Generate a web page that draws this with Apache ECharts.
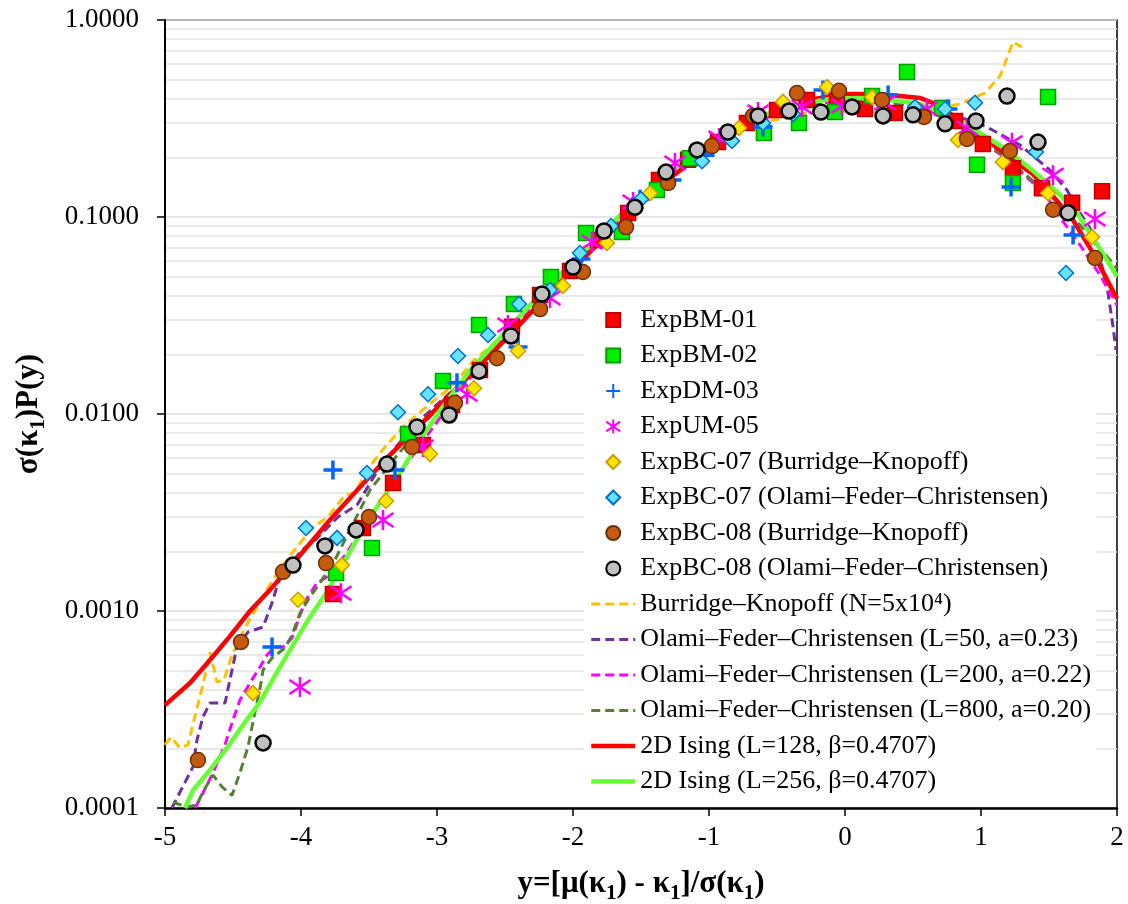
<!DOCTYPE html>
<html>
<head>
<meta charset="utf-8">
<script src="https://cdn.jsdelivr.net/npm/echarts@6/dist/echarts.min.js"></script>
<style>
  html, body { margin: 0; padding: 0; background: #fff; }
  #chart { width: 1128px; height: 904px; }
</style>
</head>
<body>
<div id="chart"></div>
<script>
// experimental points, [y, sigma*P(y)]
var expBM01 = [[-3.765,0.00122],[-3.544,0.00264],[-3.323,0.00447],[-3.103,0.00696],[-2.890,0.0111],[-2.684,0.0167],[-2.449,0.0277],[-2.242,0.0402],[-2.022,0.0532],[-1.817,0.0764],[-1.595,0.1047],[-1.368,0.154],[-1.154,0.195],[-0.934,0.240],[-0.721,0.300],[-0.500,0.349],[-0.279,0.393],[-0.059,0.393],[0.147,0.353],[0.367,0.337],[0.809,0.307],[1.014,0.235],[1.235,0.177],[1.448,0.140],[1.670,0.118],[1.890,0.135]];
var expBM02 = [[-3.742,0.00156],[-3.478,0.00209],[-3.213,0.00791],[-2.956,0.0147],[-2.691,0.0283],[-2.434,0.0362],[-2.162,0.0496],[-1.904,0.0829],[-1.640,0.0839],[-1.383,0.137],[-1.140,0.199],[-0.596,0.267],[-0.338,0.300],[-0.073,0.341],[0.199,0.411],[0.456,0.545],[0.714,0.357],[0.971,0.184],[1.235,0.149],[1.493,0.406]];
var expDM03 = [[-4.213,0.000656],[-3.765,0.00520],[-3.309,0.00520],[-2.853,0.0144],[-2.404,0.0219],[-1.942,0.0612],[-1.507,0.123],[-1.272,0.154],[-1.029,0.206],[-0.603,0.286],[-0.162,0.441],[0.317,0.416],[0.757,0.353],[1.221,0.142],[1.677,0.0811]];
var expUM05 = [[-4.007,0.000411],[-3.706,0.00123],[-3.397,0.00290],[-3.103,0.00680],[-2.779,0.0126],[-2.478,0.0283],[-2.169,0.0388],[-1.860,0.0747],[-1.558,0.119],[-1.250,0.188],[-0.926,0.252],[-0.639,0.341],[-0.316,0.362],[-0.022,0.366],[0.294,0.380],[0.603,0.353],[0.897,0.283],[1.228,0.238],[1.530,0.163],[1.838,0.0977]];
var expBC07bk = [[-4.353,0.000383],[-4.022,0.00114],[-3.699,0.00171],[-3.375,0.00362],[-3.051,0.00626],[-2.728,0.0135],[-2.404,0.0209],[-2.074,0.0447],[-1.750,0.0738],[-1.433,0.132],[-0.779,0.283],[-0.456,0.384],[-0.132,0.457],[0.199,0.406],[0.831,0.246],[1.161,0.190],[1.493,0.132],[1.817,0.0791]];
var expBC07ofc = [[-3.964,0.00264],[-3.735,0.00235],[-3.515,0.00502],[-3.287,0.0102],[-3.066,0.0126],[-2.846,0.0197],[-2.625,0.0252],[-2.397,0.0362],[-2.169,0.0426],[-1.949,0.0656],[-1.720,0.0900],[-1.500,0.123],[-1.051,0.192],[-0.831,0.243],[-0.603,0.300],[-0.382,0.333],[0.515,0.362],[0.736,0.353],[0.956,0.380],[1.404,0.214],[1.625,0.0520]];
var expBC08bk = [[-4.758,0.000175],[-4.441,0.000696],[-4.132,0.00158],[-3.816,0.00175],[-3.500,0.00300],[-3.183,0.00680],[-2.868,0.0114],[-2.559,0.0192],[-2.242,0.0341],[-1.927,0.0526],[-1.610,0.0889],[-1.301,0.149],[-0.978,0.229],[-0.676,0.326],[-0.353,0.426],[-0.044,0.437],[0.272,0.393],[0.581,0.322],[0.897,0.249],[1.213,0.216],[1.530,0.109],[1.838,0.0619]];
var expBC08ofc = [[-4.279,0.000214],[-4.059,0.00171],[-3.824,0.00214],[-3.595,0.00258],[-3.368,0.00557],[-3.147,0.00859],[-2.911,0.00989],[-2.691,0.0165],[-2.456,0.0249],[-2.228,0.0406],[-2.000,0.0557],[-1.772,0.0849],[-1.545,0.112],[-1.316,0.169],[-1.088,0.219],[-0.861,0.270],[-0.639,0.326],[-0.412,0.345],[-0.177,0.341],[0.052,0.362],[0.280,0.326],[0.500,0.330],[0.736,0.297],[0.963,0.307],[1.191,0.411],[1.419,0.240],[1.640,0.105]];

// model curves
var bkN5e4 = [[-5,0.000209],[-4.956,0.000229],[-4.890,0.000202],[-4.831,0.000209],[-4.772,0.000307],[-4.721,0.000421],[-4.669,0.000619],[-4.618,0.000436],[-4.566,0.000447],[-4.507,0.000598],[-4.412,0.000820],[-4.316,0.00107],[-4.243,0.00131],[-4.154,0.00162],[-4.066,0.00197],[-3.912,0.00267],[-3.801,0.00300],[-3.676,0.00388],[-3.603,0.00397],[-3.515,0.00520],[-3.382,0.00680],[-3.250,0.00859],[-3.147,0.00989],[-3.037,0.0115],[-2.926,0.0132],[-2.831,0.0154],[-2.728,0.0188],[-2.610,0.0219],[-2.500,0.0261],[-2.243,0.0388],[-1.985,0.0570],[-1.728,0.0859],[-1.471,0.129],[-1.213,0.184],[-0.956,0.238],[-0.699,0.297],[-0.441,0.318],[-0.184,0.349],[0.110,0.341],[0.404,0.341],[0.699,0.357],[0.846,0.375],[1.029,0.426],[1.140,0.520],[1.191,0.641],[1.235,0.773],[1.301,0.729]];
var ofcL50 = [[-4.949,0.0001],[-4.794,0.000162],[-4.765,0.000221],[-4.721,0.000290],[-4.669,0.000341],[-4.559,0.000341],[-4.507,0.000502],[-4.471,0.000656],[-4.390,0.000782],[-4.279,0.000829],[-4.213,0.00110],[-4.169,0.00139],[-4.103,0.00165],[-3.993,0.00204],[-3.897,0.00229],[-3.728,0.00300],[-3.588,0.00345],[-3.434,0.00520],[-3.309,0.00672],[-3.125,0.00933],[-2.904,0.0128],[-2.684,0.0177],[-2.463,0.0258],[-2.243,0.0374],[-2.022,0.0538],[-1.801,0.0764],[-1.581,0.106],[-1.360,0.145],[-1.140,0.190],[-0.919,0.243],[-0.699,0.297],[-0.478,0.341],[-0.257,0.375],[-0.037,0.388],[0.184,0.384],[0.404,0.375],[0.625,0.357],[0.846,0.322],[1.044,0.286],[1.287,0.232],[1.507,0.173],[1.632,0.137],[1.728,0.105],[1.801,0.0879],[1.875,0.0626],[1.934,0.0411],[1.971,0.0277],[1.993,0.0211]];
var ofcL200 = [[-4.779,0.0001],[-4.721,0.000119],[-4.647,0.000151],[-4.559,0.000209],[-4.500,0.000280],[-4.449,0.000353],[-4.375,0.000431],[-4.301,0.000520],[-4.250,0.000598],[-4.191,0.000656],[-4.132,0.000656],[-4.066,0.000729],[-4.007,0.000955],[-3.956,0.00116],[-3.882,0.00139],[-3.787,0.00152],[-3.676,0.00192],[-3.529,0.00273],[-3.346,0.00426],[-3.176,0.00619],[-2.978,0.00955],[-2.757,0.0152],[-2.537,0.0232],[-2.316,0.0345],[-2.096,0.0502],[-1.875,0.0713],[-1.654,0.100],[-1.434,0.137],[-1.213,0.184],[-0.993,0.238],[-0.772,0.290],[-0.551,0.333],[-0.331,0.366],[-0.110,0.388],[0.110,0.393],[0.331,0.384],[0.551,0.362],[0.772,0.310],[0.993,0.246],[1.176,0.200],[1.360,0.154],[1.485,0.126],[1.581,0.100],[1.728,0.0721],[1.875,0.0508],[2.0,0.0357]];
var ofcL800 = [[-4.941,0.000107],[-4.838,0.000101],[-4.765,0.000104],[-4.721,0.000121],[-4.647,0.000147],[-4.581,0.000128],[-4.507,0.000116],[-4.449,0.000151],[-4.390,0.000204],[-4.338,0.000307],[-4.301,0.000406],[-4.279,0.000502],[-4.213,0.000577],[-4.118,0.000649],[-4.066,0.000755],[-4.007,0.000977],[-3.934,0.00118],[-3.860,0.00139],[-3.750,0.00182],[-3.640,0.00258],[-3.493,0.00411],[-3.309,0.00598],[-3.125,0.00849],[-2.904,0.0126],[-2.684,0.0179],[-2.463,0.0255],[-2.243,0.0370],[-2.022,0.0532],[-1.801,0.0755],[-1.581,0.105],[-1.360,0.144],[-1.140,0.190],[-0.919,0.243],[-0.699,0.303],[-0.478,0.349],[-0.257,0.384],[-0.037,0.397],[0.184,0.393],[0.404,0.375],[0.625,0.341],[0.846,0.293],[1.066,0.232],[1.287,0.173],[1.507,0.129],[1.728,0.0910],[2.0,0.055]];
var ising128 = [[-5,0.000333],[-4.816,0.000431],[-4.669,0.000564],[-4.522,0.000746],[-4.375,0.00100],[-4.228,0.00128],[-4.007,0.00192],[-3.787,0.00290],[-3.566,0.00426],[-3.346,0.00619],[-3.125,0.00879],[-2.904,0.0125],[-2.684,0.0177],[-2.463,0.0252],[-2.243,0.0366],[-2.022,0.0526],[-1.801,0.0747],[-1.581,0.1035],[-1.360,0.144],[-1.140,0.188],[-0.919,0.240],[-0.699,0.297],[-0.478,0.349],[-0.257,0.393],[-0.037,0.421],[0.184,0.421],[0.404,0.411],[0.551,0.402],[0.662,0.375],[0.846,0.310],[1.044,0.246],[1.235,0.195],[1.382,0.165],[1.529,0.128],[1.676,0.0966],[1.824,0.0656],[2.0,0.0385]];
var ising256 = [[-4.853,0.0001],[-4.794,0.000123],[-4.669,0.000156],[-4.544,0.000202],[-4.426,0.000264],[-4.301,0.000345],[-4.176,0.000490],[-4.059,0.000671],[-3.934,0.000933],[-3.809,0.00125],[-3.654,0.00192],[-3.493,0.00300],[-3.294,0.00473],[-3.125,0.00738],[-2.956,0.0109],[-2.757,0.0167],[-2.537,0.0243],[-2.316,0.0357],[-2.096,0.0508],[-1.875,0.0721],[-1.654,0.102],[-1.434,0.137],[-1.213,0.186],[-0.993,0.238],[-0.772,0.290],[-0.551,0.337],[-0.331,0.375],[-0.110,0.397],[0.110,0.402],[0.331,0.393],[0.551,0.375],[0.772,0.330],[0.993,0.267],[1.191,0.219],[1.360,0.177],[1.529,0.140],[1.691,0.109],[1.824,0.0782],[2.0,0.0500]];

var serif = '"Liberation Serif", "Times New Roman", "DejaVu Serif", serif';

var squarePath = 'path://M0,0L10,0L10,10L0,10Z';
var diamondPath = 'path://M5,0L10,5L5,10L0,5Z';
var plusPath = 'path://M5,0L5,10M0,5L10,5';
var starPath = 'path://M0,1.5L10,8.5M10,1.5L0,8.5M5,0L5,10';

function scatter(name, data, symbol, size, style) {
  style.opacity = 1;
  return { name: name, type: 'scatter', data: data, symbol: symbol, symbolSize: size,
           itemStyle: style, z: 5, silent: true };
}
function curve(name, data, color, width, dashed) {
  return { name: name, type: 'line', data: data, symbol: 'none', showSymbol: false, smooth: false,
           lineStyle: { color: color, width: width, type: dashed ? [9, 5] : 'solid' },
           itemStyle: { color: 'rgba(0,0,0,0)', borderColor: 'rgba(0,0,0,0)', borderWidth: 0 },
           z: 3, silent: true };
}

var titleRich = {
  n: { fontFamily: serif, fontSize: 31, fontWeight: 'bold', color: '#000', verticalAlign: 'top' },
  s: { fontFamily: serif, fontSize: 21, fontWeight: 'bold', color: '#000', verticalAlign: 'top', padding: [15, 0, 0, 0] }
};

var chart = echarts.init(document.getElementById('chart'));
chart.setOption({
  animation: false,
  backgroundColor: '#fff',
  textStyle: { fontFamily: serif, color: '#000' },
  grid: { left: 165, right: 11, top: 20, bottom: 96, show: true, borderColor: '#000', borderWidth: 1.5,
          containLabel: false, outerBoundsMode: 'none' },
  legend: {
    orient: 'vertical', left: 584, top: 302, padding: 5,
    backgroundColor: '#fff',
    itemWidth: 44, itemHeight: 14, itemGap: 9.5,
    lineStyle: { width: 'inherit' },
    textStyle: { fontFamily: serif, fontSize: 26, color: '#000', lineHeight: 26 },
    data: ['ExpBM-01', 'ExpBM-02', 'ExpDM-03', 'ExpUM-05',
      'ExpBC-07 (Burridge–Knopoff)', 'ExpBC-07 (Olami–Feder–Christensen)',
      'ExpBC-08 (Burridge–Knopoff)', 'ExpBC-08 (Olami–Feder–Christensen)',
      'Burridge–Knopoff (N=5x10⁴)', 'Olami–Feder–Christensen (L=50, a=0.23)',
      'Olami–Feder–Christensen (L=200, a=0.22)', 'Olami–Feder–Christensen (L=800, a=0.20)',
      '2D Ising (L=128, β=0.4707)', '2D Ising (L=256, β=0.4707)']
  },
  xAxis: {
    type: 'value', min: -5, max: 2, interval: 1,
    name: '{n|y=[μ(κ}{s|1}{n|) - κ}{s|1}{n|]/σ(κ}{s|1}{n|)}', nameLocation: 'middle', nameGap: 60,
    nameTextStyle: { fontFamily: serif, fontSize: 31, fontWeight: 'bold', color: '#000', rich: titleRich },
    axisLine: { show: true, onZero: false, lineStyle: { color: '#000', width: 2.5 } },
    axisTick: { show: true, inside: false, length: 8, lineStyle: { color: '#000', width: 1.5 } },
    axisLabel: { fontFamily: serif, fontSize: 27, color: '#000', margin: 16 },
    splitLine: { show: false }
  },
  yAxis: {
    type: 'log', logBase: 10, min: 0.0001, max: 1,
    name: '{n|σ(κ}{s|1}{n|)P(y)}', nameLocation: 'middle', nameGap: 116, nameRotate: 90,
    nameTextStyle: { fontFamily: serif, fontSize: 31, fontWeight: 'bold', color: '#000', rich: titleRich },
    axisLine: { show: true, onZero: false, lineStyle: { color: '#000', width: 2 } },
    axisTick: { show: true, inside: false, length: 8, lineStyle: { color: '#000', width: 1.5 } },
    axisLabel: { fontFamily: serif, fontSize: 27, color: '#000', margin: 26,
      formatter: function (v) { return v.toFixed(4); } },
    splitLine: { show: true, lineStyle: { color: '#dedede', width: 1.5 } },
    minorTick: { show: false, splitNumber: 9 },
    minorSplitLine: { show: true, lineStyle: { color: '#e3e3e3', width: 1.5 } }
  },
  series: [
    scatter('ExpBM-01', expBM01, squarePath, 15, { color: '#FF0000', borderColor: '#C00000', borderWidth: 1.5 }),
    scatter('ExpBM-02', expBM02, squarePath, 15, { color: '#00F000', borderColor: '#00A000', borderWidth: 1.5 }),
    scatter('ExpDM-03', expDM03, plusPath, 19, { color: 'rgba(0,0,0,0)', borderColor: '#0066FF', borderWidth: 3.5 }),
    scatter('ExpUM-05', expUM05, starPath, [21, 20], { color: 'rgba(0,0,0,0)', borderColor: '#FF00FF', borderWidth: 2.5 }),
    scatter('ExpBC-07 (Burridge–Knopoff)', expBC07bk, diamondPath, 15, { color: '#FFE600', borderColor: '#D09C00', borderWidth: 1.5 }),
    scatter('ExpBC-07 (Olami–Feder–Christensen)', expBC07ofc, diamondPath, 15, { color: '#66E3FF', borderColor: '#0070D0', borderWidth: 1.5 }),
    scatter('ExpBC-08 (Burridge–Knopoff)', expBC08bk, 'circle', 15, { color: '#C55A11', borderColor: '#6E3000', borderWidth: 1.5 }),
    scatter('ExpBC-08 (Olami–Feder–Christensen)', expBC08ofc, 'circle', 15, { color: '#C0C0C0', borderColor: '#000', borderWidth: 2.5 }),
    curve('Burridge–Knopoff (N=5x10⁴)', bkN5e4, '#FFC000', 3, true),
    curve('Olami–Feder–Christensen (L=50, a=0.23)', ofcL50, '#7030A0', 3, true),
    curve('Olami–Feder–Christensen (L=200, a=0.22)', ofcL200, '#FF00FF', 3, true),
    curve('Olami–Feder–Christensen (L=800, a=0.20)', ofcL800, '#548235', 3, true),
    curve('2D Ising (L=128, β=0.4707)', ising128, '#FF0000', 4.5, false),
    curve('2D Ising (L=256, β=0.4707)', ising256, '#66FF33', 4.5, false)
  ]
});
window.addEventListener('resize', function () { chart.resize(); });
</script>
</body>
</html>
